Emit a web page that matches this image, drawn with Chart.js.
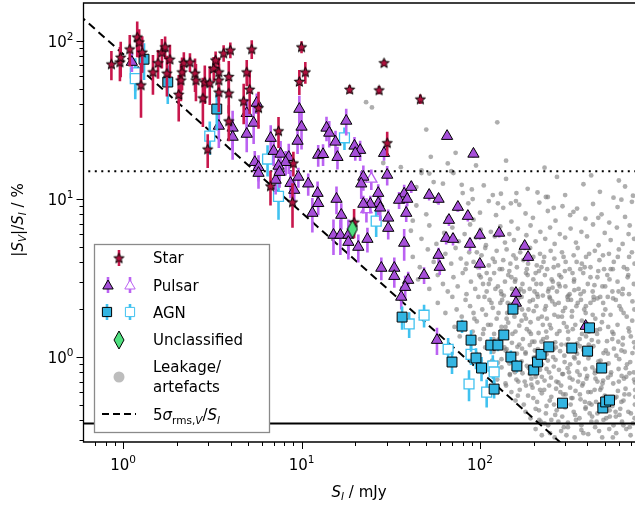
<!DOCTYPE html>
<html lang="en">
<head>
<meta charset="UTF-8">
<title>Circular polarisation fraction vs flux density</title>
<script src="https://cdn.jsdelivr.net/npm/chart.js"></script>
<style>
  body { margin: 0; background: #fff; }
  canvas { display: block; }
</style>
</head>
<body>
<canvas id="chart" width="635" height="505"></canvas>
<script>
// each row: [S_I (mJy), |S_V|/S_I (%), error (%)]
const stars = [
  [0.86,71.5,15],[0.96,73.6,18],[0.97,79,20],[1.09,89,20],[1.20,106,27],[1.23,98.6,20],[1.28,85,22],[1.26,52.7,20],
  [1.47,63.7,18],[1.57,72.8,15],[1.65,85,18],[1.72,91.8,15],[1.83,76.7,18],[1.76,62.6,18],[2.05,46,15],[2.11,56.6,15],
  [2.14,63.7,15],[2.19,72.8,12],[2.37,73.6,10],[2.53,62.6,15],[2.56,56.6,15],[2.87,55,15],[2.80,43.6,15],[3.06,54.3,15],
  [3.22,67.2,12],[3.30,75.8,10],[3.66,83.9,10],[3.99,87.7,10],[3.44,63.7,15],[3.44,56.6,15],[3.91,59.6,15],[3.91,46.8,12],
  [3.44,47.5,12],[5.26,89,12],[4.93,63.7,12],[5.12,49.5,15],[4.74,41.7,12],[5.74,37.8,10],[3.91,31.2,8],[2.98,20.7,5],
  [7.43,27,6],[10.0,91.8,8],[9.72,55.5,10],[10.5,63.7,10],[18.6,49.5,3],[27.2,49,3],[29.0,72.8,3],[46.3,42.9,3],
  [30.2,22.7,4],[6.7,12.1,3],[8.9,9.57,3],[19.7,7.14,1.5],[9.0,16.9,3]
];
const pulsars = [
  [1.12,73.6,10],[3.44,29.0,8],[4.11,28.2,8],[4.11,24.7,7],[4.93,34.9,8],[5.61,40.5,6],[5.39,30.3,8],[4.93,25.8,6],
  [9.72,37.1,8],[10.0,28.6,8],[9.5,23.3,4],[6.72,24.3,5],[6.98,20.1,4],[7.63,19.3,4],[8.48,18.4,4],[8.15,17.1,3],
  [5.47,17.1,3],[5.74,15.9,3],[7.43,16.2,3],[13.8,28.2,5],[14.3,26.2,5],[15.5,23.0,4],[17.8,31.2,6],[12.4,19.0,3],
  [13.2,19.2,3],[15.9,18.4,3],[19.8,21.7,3],[21.3,20.4,3],[20.0,19.5,2],[29.0,19.5,2],[30.2,14.2,2],[22.2,13.8,2.5],
  [21.6,12.5,2.5],[9.6,13.8,2],[10.9,12.5,2],[8.67,12.6,2.5],[7.16,13.2,2.5],[5.74,14.6,3],[7.53,14.8,3],[9.1,11.4,2],
  [12.3,10.9,2],[12.4,9.4,1.5],[15.7,10.0,2],[16.7,7.92,1.5],[11.5,8.15,2],[15.1,5.92,1.5],[16.5,5.92,1.5],[18.3,5.92,1.5],
  [18.3,5.34,1.2],[20.8,4.97,1],[23.4,5.58,1],[26.9,10.9,1.5],[26.9,9.4,1.5],[27.6,8.8,1.5],[24.3,9.3,1.2],[22.2,9.3,1.2],
  [30.6,7.6,1],[30.6,6.55,1],[37.6,10.8,1.5],[35.2,9.86,1.2],[39.1,10.0,1],[38.6,8.15,1],[41.2,11.9,1],[51.9,10.6,0.8],
  [58.6,10.0,0.8],[75.2,8.9,0.6],[85.5,7.8,0.6],[67.0,7.36,0.6],[64.6,5.66,0.5],[70.6,5.58,0.5],[99.8,5.92,0.4],[128,6.1,0.4],
  [87.9,5.19,0.5],[37.6,5.27,1.2],[58.6,4.42,0.5],[59.5,3.71,0.4],[99.8,3.88,0.3],[178,5.04,0.3],[186,4.29,0.3],[28.0,3.66,0.6],
  [33.1,3.66,0.6],[33.1,3.25,0.5],[48.6,3.30,0.4],[39.6,3.07,0.4],[38.1,2.77,0.5],[36.2,2.40,0.4],[159,2.54,0.2],[159,2.2,0.2],
  [57.4,1.28,0.25],[391,1.57,0.1],[65.4,25.0,1],[91.9,19.3,1]
];
const pulsarsOpen = [[24.6,13.4,2],[23.1,8.6,1.5]];
const agn = [
  [1.31,76.7,20],[1.78,55,15],[3.35,37.1,10],[36.6,1.79,0.3],[79.3,1.57,0.15],[89.1,1.28,0.2],[95.0,0.986,0.15],[69.7,0.93,0.15],
  [102,0.852,0.15],[120,0.627,0.08],[115,1.19,0.15],[126,1.19,0.1],[136,1.38,0.1],[153,2.01,0.15],[149,1.0,0.1],[161,0.877,0.08],
  [200,0.828,0.05],[210,0.93,0.05],[220,1.04,0.05],[243,1.16,0.05],[327,1.14,0.05],[401,1.09,0.05],[411,1.53,0.05],[481,0.852,0.05],
  [290,0.511,0.03],[488,0.476,0.03],[506,0.52,0.03],[532,0.534,0.03]
];
const agnOpen = [
  [1.17,62.9,15],[1.17,57.8,15],[3.06,25.0,6],[6.45,17.9,4],[7.43,10.4,3],[17.4,24.4,4],[26.2,7.25,1.5],[40.1,1.62,0.3],
  [48.6,1.84,0.3],[66.3,1.12,0.2],[89.1,1.04,0.15],[118,0.877,0.15],[120,0.805,0.15],[86.8,0.675,0.15],[109,0.60,0.12]
];
const unclassified = [[19.3,6.45]];
// leakage / artefacts: [S_I, |S_V|/S_I]
const leakage = [
  [23,41],[24.8,38],[50,27.5],[125,30.6],[28.7,16.9],
  [53,18.5],[73,19.6],[36,15.9],[47,15.2],[95,16.3],[140,17.5],[230,15.8],[66,16.8],
  [44,11.9],[47,14.6],[52,14.5],[55,12.8],[62,12.5],[69,15.0],[71,14.6],[79,12.3],[80,10.9],[90,11.5],[105,12.2],[118,10.6],
  [131,10.8],[140,13.4],[160,10.9],[185,11.6],[210,11.0],[240,10.3],[270,13.8],[300,10.6],[380,12.4],[420,14.1],[470,11.1],
  [560,10.2],[600,13.1],[650,12.0],[720,10.5],
  [42,7.3],[44,9.1],[50,8.0],[58,9.6],[66,7.6],[75,8.6],[86,9.4],[91,10.0],[92,7.4],[100,8.2],[112,9.7],[123,7.9],[126,9.4],
  [135,8.8],[149,9.4],[150,7.2],[159,9.7],[166,9.2],[180,8.1],[198,7.6],[215,9.5],[234,10.3],[240,8.4],[259,8.8],[265,7.3],
  [290,9.0],[320,7.9],[334,8.3],[350,8.7],[390,7.5],[430,9.3],[460,7.6],[480,8.0],[530,7.1],[590,8.9],[620,9.9],[650,7.7],
  [690,6.8],[710,9.6],
  [41,6.3],[47,5.6],[52,6.8],[57,5.2],[63,6.1],[70,6.6],[76,5.4],[82,6.0],[88,6.9],[95,5.7],[101,6.4],[108,5.1],[115,6.2],
  [121,5.8],[130,6.7],[138,5.3],[146,6.0],[155,5.5],[163,6.5],[172,5.0],[182,5.9],[192,6.8],[205,5.4],[218,6.2],[232,5.6],
  [247,6.6],[262,5.2],[280,6.0],[300,5.7],[322,6.5],[345,5.3],[370,6.2],[398,5.8],[430,6.9],[462,5.1],[500,6.1],[540,5.5],
  [585,6.6],[630,5.2],[680,6.0],[730,5.6],
  [42,4.3],[46,3.7],[51,4.8],[55,4.0],[60,3.6],[64,4.5],[69,3.9],[73,4.9],[78,4.2],[83,3.6],[87,4.6],[92,4.0],[97,3.7],
  [102,4.4],[107,4.9],[112,3.8],[118,4.2],[124,4.7],[129,3.6],[135,4.1],[141,4.8],[148,3.9],[154,4.4],[161,3.7],[168,4.6],
  [175,4.1],[183,3.6],[191,4.9],[199,4.3],[208,3.8],[217,4.5],[227,4.0],[238,3.6],[249,4.7],[261,4.2],[274,3.8],[288,4.6],
  [302,4.0],[318,3.6],[335,4.4],[353,4.9],[372,3.9],[393,4.3],[416,3.7],[440,4.7],[467,4.1],[496,3.6],[528,4.5],[562,4.0],
  [600,4.8],[640,3.7],[685,4.3],[735,3.9],
  [45,3.1],[52,2.7],[58,3.3],[62,2.9],[66,2.6],[71,3.2],[75,2.8],[80,3.4],[84,2.5],[89,3.0],[94,2.7],[99,3.3],[104,2.9],
  [109,2.6],[114,3.1],[120,3.4],[126,2.8],[132,2.5],[138,3.0],[144,3.3],[151,2.7],[158,3.1],[165,2.6],[173,2.9],[181,3.4],
  [190,2.7],[199,3.1],[209,2.5],[220,2.9],[231,3.3],[243,2.7],[256,3.0],[270,2.6],[285,3.2],[301,2.8],[318,2.5],[337,3.1],
  [357,2.7],[379,3.4],[402,2.9],[428,2.6],[455,3.2],[485,2.8],[517,3.3],[552,2.6],[590,3.0],[632,2.7],[678,3.3],[728,2.9],
  [58,2.2],[64,1.9],[70,2.4],[74,2.0],[79,1.8],[83,2.3],[88,2.1],[93,1.75],[98,2.4],[103,2.0],[108,1.85],[113,2.3],[118,2.05],
  [124,1.75],[130,2.2],[136,2.45],[142,1.9],[149,2.15],[156,1.8],[164,2.35],[172,2.0],[181,1.75],[190,2.25],[200,1.95],
  [211,2.4],[222,1.8],[234,2.1],[247,2.35],[261,1.85],[276,2.2],[292,1.95],[309,2.4],[327,1.8],[347,2.1],[368,2.3],[391,1.9],
  [416,2.2],[443,1.75],[472,2.4],[504,2.0],[539,1.85],[577,2.3],[618,2.0],[664,1.8],[715,2.25],
  [72,1.55],[77,1.35],[82,1.62],[86,1.25],[91,1.45],[96,1.68],[100,1.3],[105,1.5],[110,1.22],[115,1.6],[120,1.4],[126,1.27],
  [132,1.55],[138,1.35],[144,1.65],[151,1.23],[158,1.45],[166,1.58],[174,1.3],[183,1.5],[192,1.66],[202,1.25],[213,1.42],
  [225,1.6],[237,1.33],[250,1.52],[264,1.24],[279,1.46],[295,1.64],[312,1.3],[331,1.5],[351,1.22],[373,1.4],[397,1.62],
  [423,1.28],[451,1.48],[482,1.66],[515,1.26],[551,1.44],[590,1.6],[633,1.32],[680,1.52],[730,1.24],
  [95,1.05],[101,0.95],[107,1.15],[113,0.92],[119,1.08],[125,1.18],[132,0.97],[139,1.1],[146,0.91],[154,1.02],[162,1.16],
  [171,0.94],[180,1.07],[190,1.19],[200,0.99],[211,1.12],[223,0.9],[236,1.04],[250,1.17],[265,0.96],[281,1.09],[298,0.93],
  [316,1.14],[336,1.0],[357,0.92],[380,1.11],[405,0.98],[432,1.17],[461,0.94],[492,1.06],[526,0.91],[563,1.13],[603,0.97],
  [647,1.08],[695,0.93],[740,1.15],
  [118,0.8],[125,0.72],[132,0.86],[139,0.68],[147,0.77],[155,0.84],[164,0.7],[173,0.79],[183,0.88],[194,0.67],[205,0.75],
  [217,0.83],[230,0.71],[244,0.8],[259,0.87],[275,0.69],[292,0.78],[310,0.85],[330,0.72],[351,0.81],[374,0.66],[399,0.76],
  [426,0.86],[455,0.7],[487,0.82],[521,0.74],[558,0.68],[598,0.84],[641,0.73],[688,0.79],[738,0.69],
  [150,0.6],[158,0.53],[167,0.62],[176,0.5],[186,0.57],[197,0.64],[209,0.52],[222,0.59],[236,0.49],[251,0.56],[267,0.63],
  [284,0.51],[302,0.58],[322,0.5],[343,0.61],[366,0.54],[391,0.48],[418,0.6],[447,0.52],[479,0.64],[514,0.55],[552,0.49],
  [593,0.61],[637,0.53],[685,0.58],[738,0.5],
  [180,0.45],[192,0.41],[205,0.47],[219,0.39],[234,0.44],[251,0.4],[269,0.46],[289,0.42],[311,0.385],[335,0.45],[361,0.41],
  [390,0.47],[421,0.39],[455,0.44],[492,0.4],[533,0.46],[577,0.42],[625,0.39],[678,0.45],[735,0.41],
  [205,0.35],[222,0.32],[241,0.37],[262,0.31],[285,0.34],[311,0.36],[339,0.31],[370,0.345],[404,0.325],[442,0.36],[484,0.31],
  [530,0.35],[580,0.33],[636,0.37],[698,0.32],
  [101,3.2],[106,2.4],[111,1.6],[117,0.95],[122,2.7],[127,1.9],[133,3.6],[137,1.15],[143,2.2],[147,0.78],[152,1.4],[157,3.0],
  [162,2.05],[167,0.88],[171,1.7],[176,2.6],[180,1.05],[185,3.3],[189,1.45],[194,0.73],[198,2.3],[203,1.1],[207,2.9],[212,1.75],
  [217,0.62],[221,3.7],[226,1.3],[231,2.0],[236,0.84],[241,2.6],[246,1.6],[252,3.1],[257,1.0],[263,2.15],[268,0.7],[274,1.8],
  [280,2.8],[286,1.2],[293,0.58],[299,3.5],[306,1.55],[313,2.45],[320,0.9],[328,1.95],[336,3.0],[344,1.12],[353,2.2],[362,0.77],
  [372,1.7],[382,2.6],[393,1.35],[404,0.6],[416,3.2],[428,1.85],[441,0.82],[455,2.35],[470,1.5],[486,0.68],[503,2.8],[521,1.05],
  [540,3.6],[560,1.4],[582,0.56],[605,2.1],[630,1.2],[656,0.85],[684,2.5],[713,1.7],[740,0.62],
  [84,3.9],[96,4.6],[109,3.4],[121,4.0],[133,2.3],[146,3.5],[159,4.2],[171,2.4],[186,3.9],[202,2.6],[214,3.5],[229,4.3],
  [245,2.4],[259,3.7],[276,2.9],[294,4.3],[311,2.3],[330,3.4],[348,4.0],[366,2.5],[386,3.7],[409,4.5],[433,2.4],[460,3.5],
  [489,4.4],[520,2.4],[555,3.6],[592,4.3],[628,2.5],[668,3.6],[710,4.6],
  [92,1.9],[104,1.4],[116,2.2],[128,1.3],[141,1.75],[153,2.5],[166,1.2],[178,1.85],[193,1.4],[207,2.1],[221,1.25],[237,1.75],
  [254,2.25],[270,1.4],[288,1.8],[305,1.2],[324,2.3],[342,1.6],[362,1.3],[384,2.0],[408,1.45],[434,2.3],[460,1.25],[490,1.85],
  [523,1.55],[557,2.35],[596,1.25],[638,1.9],[686,1.45],[733,2.0],
  [126,0.92],[141,1.12],[157,0.8],[172,1.13],[188,0.85],[205,1.0],[222,0.75],[240,0.95],[258,1.12],[277,0.83],[297,1.02],
  [318,0.74],[340,0.98],[363,1.17],[389,0.84],[415,1.03],[444,0.73],[474,0.95],[507,1.1],[543,0.8],[581,1.02],[622,0.76],
  [667,0.9],[715,1.06],
  [163,0.57],[181,0.66],[199,0.55],[214,0.46],[229,0.62],[246,0.53],[264,0.43],[282,0.6],[300,0.48],[320,0.64],[341,0.43],
  [363,0.58],[387,0.52],[412,0.44],[439,0.62],[468,0.49],[500,0.57],[534,0.42],[571,0.55],[611,0.47],[654,0.63],[701,0.44],
  [742,0.56],
  [215,0.4],[247,0.33],[275,0.39],[305,0.32],[345,0.4],[380,0.33],[425,0.42],[465,0.34],[510,0.41],[555,0.31],[605,0.43],
  [660,0.35],[720,0.38],
  [112,2.9],[119,1.3],[131,2.6],[139,1.55],[150,3.2],[161,1.05],[169,2.7],[178,0.7],[187,2.0],[196,1.25],[205,3.4],[216,0.95],
  [225,2.45],[235,1.45],[244,0.66],[255,2.75],[266,1.15],[278,3.3],[289,0.78],[300,2.05],[312,1.45],[325,0.55],[338,2.65],
  [350,1.05],[365,3.6],[378,0.68],[392,2.1],[407,1.2],[422,0.5],[438,2.85],[453,1.4],[472,0.62],[490,2.2],[510,0.9],[532,3.1],
  [551,1.3],[575,0.45],[598,2.6],[620,1.1],[645,0.58],[672,3.2],[700,1.35],[728,0.8],
  [230,0.38],[260,0.5],[295,0.36],[330,0.55],[370,0.37],[410,0.51],[450,0.39],[500,0.53],[560,0.37],[620,0.52],[690,0.36],
  [140,0.66],[160,0.72],[190,0.78],[210,0.69],[250,0.74],[285,0.66],[315,0.8],[355,0.7],[395,0.73],[440,0.79],[490,0.71],
  [540,0.77],[600,0.7],[660,0.75],[730,0.72]
];
const sigmaLine = [[0.5,166],[1000,0.081]];   // 5 sigma_rms,V / S_I
const upperLimit = 15;     // dotted line, %
const leakageFloor = 0.38; // solid line, %
const xMajor = [1, 10, 100];
const yMajor = [1, 10, 100];
const xRange = [0.613, 739];
const yRange = [0.29, 174];

const COL = {
  star: '#b0103d', starBar: '#c8174c',
  pulsar: '#a64fd9', pulsarBar: '#bb62f2',
  agn: '#33b5e2', agnBar: '#40c2f0',
  uncl: '#4fe07f', leak: 'rgba(125,125,125,0.62)'
};
const FONT = '"DejaVu Sans", sans-serif';

function toPts(rows) {
  return rows.map(r => ({ x: r[0], y: r[1], e: r[2] }));
}

function makeStar(fill) {
  const c = document.createElement('canvas');
  c.width = 13; c.height = 13;
  const g = c.getContext('2d');
  g.translate(6.5, 7);
  g.beginPath();
  for (let i = 0; i < 10; i++) {
    const r = i % 2 ? 2.3 : 5.3;
    const a = -Math.PI / 2 + i * Math.PI / 5;
    g.lineTo(r * Math.cos(a), r * Math.sin(a));
  }
  g.closePath();
  g.fillStyle = fill; g.fill();
  g.lineWidth = 1; g.strokeStyle = '#000'; g.stroke();
  return c;
}

function makeDiamond(fill) {
  const c = document.createElement('canvas');
  c.width = 12; c.height = 20;
  const g = c.getContext('2d');
  g.beginPath();
  g.moveTo(6, 1); g.lineTo(11, 10); g.lineTo(6, 19); g.lineTo(1, 10);
  g.closePath();
  g.fillStyle = fill; g.fill();
  g.lineWidth = 1; g.strokeStyle = '#000'; g.stroke();
  return c;
}

const starImg = makeStar(COL.star);
const diamondImg = makeDiamond(COL.uncl);

// vertical error bars, drawn just before each dataset's markers
const errorBars = {
  id: 'errorBars',
  beforeDatasetDraw(chart, args) {
    const ds = chart.data.datasets[args.index];
    if (!ds.errColor) return;
    const { ctx, chartArea: a } = chart;
    const xs = chart.scales.x, ys = chart.scales.y;
    ctx.save();
    ctx.beginPath();
    ctx.rect(a.left, a.top, a.right - a.left, a.bottom - a.top);
    ctx.clip();
    ctx.strokeStyle = ds.errColor;
    ctx.lineWidth = 2.6;
    ds.data.forEach(p => {
      const px = xs.getPixelForValue(p.x);
      const lo = Math.max(p.y - p.e, yRange[0] * 0.5);
      ctx.beginPath();
      ctx.moveTo(px, ys.getPixelForValue(p.y + p.e));
      ctx.lineTo(px, ys.getPixelForValue(lo));
      ctx.stroke();
    });
    ctx.restore();
  }
};

function rich(ctx, parts, x, y, align) {
  let w = 0;
  parts.forEach(p => { ctx.font = p.f; p.w = ctx.measureText(p.t).width; w += p.w; });
  let cx = align === 'center' ? x - w / 2 : align === 'right' ? x - w : x;
  ctx.textAlign = 'left';
  ctx.textBaseline = 'alphabetic';
  parts.forEach(p => { ctx.font = p.f; ctx.fillText(p.t, cx, y + (p.dy || 0)); cx += p.w; });
}
const N = '15px ' + FONT, I = 'italic 15px ' + FONT;
const NS = '10.5px ' + FONT, IS = 'italic 10.5px ' + FONT;

function minorTicks(lo, hi) {
  const out = [];
  for (let d = 0.1; d <= 1000; d *= 10) {
    for (let m = 2; m <= 9; m++) {
      const v = m * d;
      if (v >= lo && v <= hi) out.push(v);
    }
  }
  return out;
}

// axes, ticks, labels and legend
const frame = {
  id: 'frame',
  afterDraw(chart) {
    const { ctx, chartArea: a } = chart;
    const xs = chart.scales.x, ys = chart.scales.y;
    ctx.save();
    ctx.strokeStyle = '#000';
    ctx.fillStyle = '#000';
    ctx.lineWidth = 1.3;
    ctx.beginPath();
    ctx.moveTo(a.right, a.top); ctx.lineTo(a.left, a.top);
    ctx.lineTo(a.left, a.bottom); ctx.lineTo(a.right, a.bottom);
    ctx.stroke();

    ctx.lineWidth = 1;
    const tick = (x1, y1, x2, y2) => { ctx.beginPath(); ctx.moveTo(x1, y1); ctx.lineTo(x2, y2); ctx.stroke(); };
    xMajor.forEach(v => { const p = Math.round(xs.getPixelForValue(v)) + 0.5; tick(p, a.bottom, p, a.bottom + 7); });
    minorTicks(xRange[0], xRange[1]).forEach(v => { const p = Math.round(xs.getPixelForValue(v)) + 0.5; tick(p, a.bottom, p, a.bottom + 4); });
    yMajor.forEach(v => { const p = Math.round(ys.getPixelForValue(v)) + 0.5; tick(a.left - 7, p, a.left, p); });
    minorTicks(yRange[0], yRange[1]).forEach(v => { const p = Math.round(ys.getPixelForValue(v)) + 0.5; tick(a.left - 4, p, a.left, p); });

    xMajor.forEach(v => {
      rich(ctx, [{ t: '10', f: N }, { t: String(Math.round(Math.log10(v))), f: NS, dy: -7 }],
        xs.getPixelForValue(v), a.bottom + 28, 'center');
    });
    yMajor.forEach(v => {
      rich(ctx, [{ t: '10', f: N }, { t: String(Math.round(Math.log10(v))), f: NS, dy: -7 }],
        a.left - 10, ys.getPixelForValue(v) + 6, 'right');
    });

    rich(ctx, [{ t: 'S', f: I }, { t: 'I', f: IS, dy: 3 }, { t: ' / mJy', f: N }], 359, 497, 'center');
    ctx.save();
    ctx.translate(23, 220);
    ctx.rotate(-Math.PI / 2);
    rich(ctx, [{ t: '|', f: N }, { t: 'S', f: I }, { t: 'V', f: IS, dy: 3 }, { t: '|/', f: N },
      { t: 'S', f: I }, { t: 'I', f: IS, dy: 3 }, { t: ' / %', f: N }], 0, 0, 'center');
    ctx.restore();

    // legend
    const bx = 94, by = 244, bw = 175, bh = 188;
    ctx.fillStyle = '#fff';
    ctx.fillRect(bx, by, bw, bh);
    ctx.strokeStyle = '#8a8a8a';
    ctx.lineWidth = 1.3;
    ctx.strokeRect(bx + 0.5, by + 0.5, bw, bh);

    const bar = (x, y, col) => {
      ctx.strokeStyle = col; ctx.lineWidth = 2.6;
      ctx.beginPath(); ctx.moveTo(x, y - 8); ctx.lineTo(x, y + 8); ctx.stroke();
    };
    const mark = (style, r, x, y, fill, edge) => {
      ctx.fillStyle = fill; ctx.strokeStyle = edge; ctx.lineWidth = 1;
      Chart.helpers.drawPoint(ctx, { pointStyle: style, radius: r, rotation: 0, borderWidth: 1 }, x, y);
    };
    bar(119, 258, COL.starBar); mark(starImg, 6, 119, 258, COL.star, '#000');
    bar(108, 285, COL.pulsarBar); mark('triangle', 6, 108, 286, COL.pulsar, '#000');
    bar(130, 285, COL.pulsarBar); mark('triangle', 6, 130, 286, '#fff', COL.pulsarBar);
    bar(107, 312, COL.agnBar); mark('rect', 6.5, 107, 312, COL.agn, '#000');
    bar(130, 312, COL.agnBar); mark('rect', 6.5, 130, 312, '#fff', COL.agnBar);
    mark(diamondImg, 6, 119, 340, COL.uncl, '#000');
    ctx.fillStyle = '#bdbdbd';
    ctx.beginPath(); ctx.arc(119, 377, 5.5, 0, Math.PI * 2); ctx.fill();
    ctx.strokeStyle = '#000'; ctx.lineWidth = 2; ctx.setLineDash([7, 4]);
    ctx.beginPath(); ctx.moveTo(102, 414); ctx.lineTo(136, 414); ctx.stroke();
    ctx.setLineDash([]);

    ctx.fillStyle = '#000';
    const tx = 153;
    rich(ctx, [{ t: 'Star', f: N }], tx, 263, 'left');
    rich(ctx, [{ t: 'Pulsar', f: N }], tx, 291, 'left');
    rich(ctx, [{ t: 'AGN', f: N }], tx, 318, 'left');
    rich(ctx, [{ t: 'Unclassified', f: N }], tx, 345, 'left');
    rich(ctx, [{ t: 'Leakage/', f: N }], tx, 372, 'left');
    rich(ctx, [{ t: 'artefacts', f: N }], tx, 392, 'left');
    rich(ctx, [{ t: '5', f: N }, { t: 'σ', f: I }, { t: 'rms,', f: NS, dy: 3.5 }, { t: 'V', f: IS, dy: 3.5 },
      { t: '/', f: N }, { t: 'S', f: I }, { t: 'I', f: IS, dy: 3.5 }], tx, 420, 'left');
    ctx.restore();
  }
};

const lineSet = (pts, dash, width, order) => ({
  data: pts.map(p => ({ x: p[0], y: p[1] })),
  showLine: true, pointRadius: 0, borderColor: '#000', borderWidth: width,
  borderDash: dash, fill: false, order: order
});

new Chart(document.getElementById('chart'), {
  type: 'scatter',
  data: {
    datasets: [
      { label: 'Unclassified', data: toPts(unclassified), pointStyle: diamondImg, pointRadius: 6, order: 0 },
      { label: 'Star', data: toPts(stars), pointStyle: starImg, pointRadius: 6, errColor: COL.starBar, order: 1 },
      { label: 'AGN', data: toPts(agn), pointStyle: 'rect', pointRadius: 7, backgroundColor: COL.agn,
        borderColor: '#000', borderWidth: 1, errColor: COL.agnBar, order: 2 },
      { label: 'Pulsar', data: toPts(pulsars), pointStyle: 'triangle', pointRadius: 6.5, backgroundColor: COL.pulsar,
        borderColor: '#000', borderWidth: 1, errColor: COL.pulsarBar, order: 3 },
      { label: 'Pulsar (open)', data: toPts(pulsarsOpen), pointStyle: 'triangle', pointRadius: 6.5, backgroundColor: '#fff',
        borderColor: COL.pulsarBar, borderWidth: 1.3, errColor: COL.pulsarBar, order: 4 },
      { label: 'AGN (open)', data: toPts(agnOpen), pointStyle: 'rect', pointRadius: 7, backgroundColor: '#fff',
        borderColor: COL.agnBar, borderWidth: 1.3, errColor: COL.agnBar, order: 5 },
      lineSet(sigmaLine, [8, 5], 2, 6),
      lineSet([[0.3, upperLimit], [1000, upperLimit]], [2, 4.5], 2, 7),
      lineSet([[0.3, leakageFloor], [1000, leakageFloor]], [], 2, 8),
      { label: 'Leakage/artefacts', data: leakage.map(p => ({ x: p[0], y: p[1] })), pointStyle: 'circle',
        pointRadius: 2.4, backgroundColor: COL.leak, borderWidth: 0, order: 9 }
    ]
  },
  options: {
    responsive: false,
    devicePixelRatio: 1,
    animation: false,
    events: [],
    layout: { autoPadding: false, padding: { left: 83.5, right: 0, top: 3, bottom: 63 } },
    scales: {
      x: { type: 'logarithmic', min: xRange[0], max: xRange[1], display: false },
      y: { type: 'logarithmic', min: yRange[0], max: yRange[1], display: false }
    },
    plugins: { legend: { display: false }, tooltip: { enabled: false } }
  },
  plugins: [errorBars, frame]
});
</script>
</body>
</html>
